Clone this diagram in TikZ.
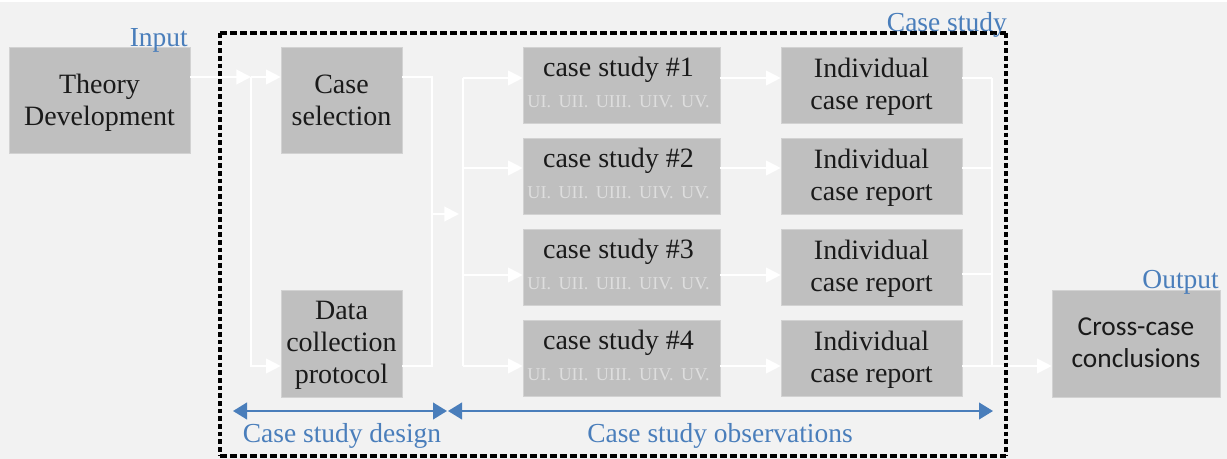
\documentclass[tikz,border=0pt]{standalone}
\usepackage{fontspec}
\setmainfont{Liberation Serif}
\newfontfamily\crossfont{Carlito}
\usetikzlibrary{arrows.meta,calc}

\definecolor{bgpanel}{HTML}{F2F2F2}
\definecolor{boxfill}{HTML}{BFBFBF}
\definecolor{boxedge}{HTML}{D2D2D2}
\definecolor{labelblue}{HTML}{4A7EBB}
\definecolor{romangray}{HTML}{DEDEDE}
\definecolor{ink}{HTML}{1A1A1A}

\tikzset{
  stagebox/.style={rectangle, fill=boxfill, draw=boxedge, line width=0.5pt,
    inner sep=0pt},
  widebox/.style={stagebox, minimum width=135.75pt},
  narrowbox/.style={stagebox, minimum width=90.75pt, minimum height=79.5pt},
  casebox/.style={stagebox, minimum width=147.75pt, minimum height=57pt},
  reportbox/.style={stagebox, minimum width=135.75pt, minimum height=57pt},
  boxtext/.style={inner sep=0pt, align=center, text=ink,
    font=\fontsize{21pt}{24pt}\selectfont},
  crosstext/.style={inner sep=0pt, align=center, text=ink,
    font=\crossfont\fontsize{20.5pt}{24pt}\selectfont},
  cstitle/.style={inner sep=0pt, anchor=base, text=ink,
    font=\fontsize{21pt}{24pt}\selectfont},
  romanline/.style={inner sep=0pt, anchor=base, text=romangray,
    font=\fontsize{13.6pt}{16pt}\selectfont},
  flow/.style={draw=white, line width=1.5pt},
  flowtip/.style={flow, -{Triangle[length=11pt,width=11pt]}},
  span/.style={draw=labelblue, line width=1.5pt,
    {Triangle[length=10.5pt,width=12.5pt]}-{Triangle[length=10.5pt,width=12.5pt]}},
  bluelabel/.style={inner sep=0pt, text=labelblue,
    font=\fontsize{20.6pt}{24pt}\selectfont},
  frameh/.style={draw=black, line width=3pt, dash pattern=on 5.25pt off 2.25pt},
  framev/.style={draw=black, line width=3pt, dash pattern=on 3.5pt off 2.25pt},
}

\begin{document}
\begin{tikzpicture}[x=0.75pt, y=-0.75pt]
  % canvas
  \useasboundingbox (0,0) rectangle (1227,459);
  \fill[white] (0,0) rectangle (1227,459);
  \fill[bgpanel] (0,2) rectangle (1227,459);

  % stage boxes
  \node[widebox, minimum height=79.5pt] (tdev) at (99.5,100) {};
  \node[narrowbox] (csel) at (341.5,100) {};
  \node[narrowbox, minimum height=80.25pt] (dcol) at (341.5,343.5) {};
  \node[casebox]   (cs1)  at (621.5,85) {};
  \node[casebox]   (cs2)  at (621.5,176) {};
  \node[casebox]   (cs3)  at (621.5,267) {};
  \node[casebox]   (cs4)  at (621.5,358) {};
  \node[reportbox] (rep1) at (871.5,85) {};
  \node[reportbox] (rep2) at (871.5,176) {};
  \node[reportbox] (rep3) at (871.5,267) {};
  \node[reportbox] (rep4) at (871.5,358) {};
  \node[stagebox, minimum width=126pt, minimum height=80.25pt] (cross) at (1136,343.5) {};

  % box texts
  \node[boxtext] (tdevtxt) at ([yshift=-2.25pt]tdev.center) {Theory\\Development};
  \node[boxtext] (cseltxt) at (csel.center) {Case\\selection};
  \node[boxtext] (dcoltxt) at ([yshift=-1.7pt]dcol.center) {Data\\collection\\protocol};
  \foreach \i in {1,...,4}{
    \node[cstitle] (cstitle\i) at ($(cs\i.north)+(-3,30)$) {case study \#\i};
    \node[romanline] (csroman\i) at ($(cs\i.north)+(-3,61)$) {UI.\, UII.\, UIII.\, UIV.\, UV.};
    \node[boxtext] (reptxt\i) at ([yshift=-1.1pt]rep\i.center) {Individual\\case report};
  }
  \node[crosstext] (crosstxt) at ([yshift=0.6pt]cross.center) {Cross-case\\conclusions};

  % routing points
  \coordinate (j1)  at (251,77);
  \coordinate (j1b) at (251,366);
  \coordinate (m1)  at (432,77);
  \coordinate (m2)  at (432,366);
  \coordinate (mj)  at (432,214);
  \coordinate (mt)  at (459,214);
  \coordinate (b1)  at (463,78);
  \coordinate (b2)  at (463,168);
  \coordinate (b3)  at (463,275);
  \coordinate (b4)  at (463,366);
  \coordinate (c1)  at (992,78);
  \coordinate (c2)  at (992,168);
  \coordinate (c3)  at (992,274);
  \coordinate (c4)  at (992,366);

  % design phase flow
  \draw[flowtip] (tdev.east |- j1) -- (j1);
  \draw[flowtip] (j1) -- (csel.west |- j1);
  \draw[flowtip] (j1) -- (j1b) -- (dcol.west |- j1b);
  \draw[flow] (csel.east |- m1) -- (m1) -- (m2) -- (dcol.east |- m2);
  \draw[flowtip] (mj) -- (mt);

  % observation phase flow
  \draw[flow] (b1) -- (b4);
  \draw[flow] (c1) -- (c4);
  \foreach \i in {1,...,4}{
    \draw[flowtip] (b\i) -- (cs\i.west |- b\i);
    \draw[flowtip] (cs\i.east |- b\i) -- (rep\i.west |- b\i);
    \draw[flow] (rep\i.east |- c\i) -- (c\i);
  }
  \draw[flowtip] (c4) -- (cross.west |- c4);

  % phase spans
  \coordinate (sp1) at (233,411);
  \coordinate (sp2) at (447,411);
  \coordinate (sp3) at (448,411);
  \coordinate (sp4) at (993,411);
  \draw[span] (sp1) -- (sp2);
  \draw[span] (sp3) -- (sp4);
  \node[bluelabel, anchor=base] (designlbl) at (342,442) {Case study design};
  \node[bluelabel, anchor=base] (obslbl) at (720,442) {Case study observations};

  % case study frame
  \coordinate (fr1) at (220,33);
  \coordinate (fr2) at (1006,33);
  \coordinate (fr3) at (1006,456);
  \coordinate (fr4) at (220,456);
  \draw[frameh] (fr1) -- (fr2);
  \draw[frameh] (fr4) -- (fr3);
  \draw[framev] (fr1) -- (fr4);
  \draw[framev] (fr2) -- (fr3);

  % headings
  \node[bluelabel, anchor=base east] (inlbl) at (188,46.5) {Input};
  \node[bluelabel, anchor=base east] (framelbl) at (1007,31.5) {Case study};
  \node[bluelabel, anchor=base east] (outlbl) at (1219,289) {Output};
\end{tikzpicture}
\end{document}
